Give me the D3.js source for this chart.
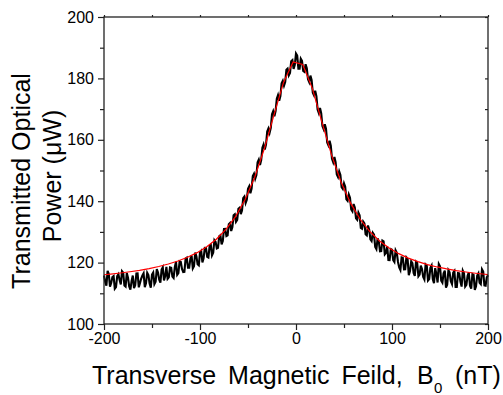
<!DOCTYPE html>
<html>
<head>
<meta charset="utf-8">
<script src="https://cdn.jsdelivr.net/npm/d3@7"></script>
<style>
  html, body { margin: 0; padding: 0; background: #fff; }
  svg { display: block; }
  text { font-family: "Liberation Sans", Arial, sans-serif; fill: #000; }
</style>
</head>
<body>
<svg id="chart" width="503" height="395"></svg>
<script>
// ---------- data ----------
// Measured trace: sampled every 1.25 nT from -200 to 200 nT
const measuredFieldStart = -200;
const measuredFieldStep = 1.25;
const measuredPower = [
  115.8,113.75,112.5,117.3,116.3,112.15,113.4,115.3,115.6,111.5,
  112.0,115.6,116.2,114.35,112.9,117.2,116.7,112.55,112.2,116.65,
  115.1,112.25,111.2,114.0,115.8,111.7,112.6,116.45,116.5,111.95,
  113.4,114.8,115.8,116.5,112.0,113.25,116.7,115.95,113.2,111.85,
  116.1,116.75,113.0,113.75,117.9,116.75,114.4,113.45,117.7,118.45,
  114.2,115.6,118.6,114.7,115.2,118.45,118.3,115.45,115.0,118.55,
  120.3,116.05,116.6,120.4,120.2,117.95,116.9,117.0,121.3,121.6,
  118.3,118.3,121.3,122.3,118.1,118.8,123.3,122.1,119.45,119.1,
  123.3,123.8,120.05,121.4,124.8,124.75,121.9,121.65,125.4,125.8,
  122.35,123.2,127.3,126.75,124.6,124.8,128.6,128.9,125.95,127.05,
  130.95,131.0,128.65,128.9,132.5,132.9,130.3,131.55,135.4,135.75,
  133.3,133.9,137.5,137.85,135.8,137.0,141.0,141.5,139.4,140.5,
  144.0,144.8,142.6,144.1,148.2,148.95,147.3,148.5,152.7,153.55,
  151.8,153.4,157.4,158.5,156.8,158.45,162.7,163.7,162.3,163.9,
  168.3,169.3,167.7,169.35,173.4,174.55,172.7,174.25,178.4,179.2,
  177.6,178.8,182.8,183.2,181.0,181.8,185.6,185.95,183.1,184.4,
  188.1,187.45,183.2,183.2,186.4,185.7,182.4,182.1,184.6,183.35,
  179.7,178.8,180.9,179.5,175.3,174.45,176.0,174.25,169.9,168.75,
  170.4,168.65,164.5,163.5,165.1,163.6,159.1,158.2,159.7,158.05,
  153.8,152.7,154.4,152.75,148.7,147.9,149.7,148.55,144.6,144.0,
  145.8,144.7,140.6,140.1,142.2,141.15,137.3,136.7,139.1,137.95,
  134.4,133.95,136.3,135.4,131.3,131.05,133.4,132.8,129.2,128.85,
  132.1,130.75,127.6,127.05,129.7,129.1,125.1,124.4,127.9,126.9,
  123.7,123.75,127.2,126.95,122.7,123.2,125.3,120.85,120.8,124.4,
  124.2,120.8,120.2,124.0,123.2,120.2,118.4,117.55,121.7,121.55,
  117.8,117.85,121.7,121.2,115.9,117.25,120.4,119.8,116.6,115.65,
  120.3,119.9,115.5,116.05,119.0,117.9,115.35,114.5,119.4,119.0,
  114.15,114.6,118.3,119.05,114.6,113.3,118.2,116.25,113.5,119.55,
  118.8,114.1,113.45,116.5,117.4,111.85,112.75,117.5,116.8,113.9,
  113.0,116.7,117.25,112.05,112.05,116.6,116.5,113.85,112.2,117.35,
  116.5,112.2,112.75,115.7,116.8,112.45,111.5,116.25,116.0,111.1,
  112.2,115.75,116.5,113.4,112.95,117.8,117.05,112.6,112.5,115.2,
  115.9
];
const measuredField = measuredPower.map((_, i) => measuredFieldStart + i * measuredFieldStep);

// Lorentzian fit curve (red)
const fitField = [-200,-193,-183,-173,-163,-153,-143,-133,-123,-113,-103,-93,-83,-73,-63,-53,-43,-33,-23,-13,-3,
                  7,17,27,37,47,57,67,77,87,97,107,117,127,137,147,157,167,177,187,197,200];
const fitPower = [116.05,116.27,116.62,117.02,117.49,118.06,118.72,119.53,120.51,121.73,123.24,125.15,127.60,130.79,134.97,140.52,147.80,157.10,168.03,178.70,185.34,
                  184.54,176.75,165.78,155.08,146.19,139.28,134.04,130.08,127.06,124.73,122.91,121.46,120.30,119.36,118.58,117.93,117.39,116.93,116.54,116.20,116.11];

// Axis ticks
const xMajorTicks = [-200, -100, 0, 100, 200];
const xMinorTicks = [-150, -50, 50, 150];
const yMajorTicks = [100, 120, 140, 160, 180, 200];
const yMinorTicks = [110, 130, 150, 170, 190];
const xDomain = [-200, 200];
const yDomain = [100, 200];

// ---------- drawing ----------
const svg = d3.select("#chart");
const L = 104, R = 488, T = 17, B = 324;

const x = d3.scaleLinear().domain(xDomain).range([L, R]);
const y = d3.scaleLinear().domain(yDomain).range([B, T]);
const fmt = d => String(d);

// measured trace
const line = d3.line().x(d => x(d[0])).y(d => y(d[1]));
svg.append("path")
  .datum(measuredField.map((f, i) => [f, measuredPower[i]]))
  .attr("d", line)
  .attr("fill", "none")
  .attr("stroke", "#000")
  .attr("stroke-width", 2.1);

// fit
svg.append("path")
  .datum(fitField.map((f, i) => [f, fitPower[i]]))
  .attr("d", line)
  .attr("fill", "none")
  .attr("stroke", "#ff0000")
  .attr("stroke-width", 1.2);

const axisColor = "#222";
function styleAxis(g) {
  g.select(".domain").remove();
  g.selectAll(".tick line").attr("stroke", axisColor).attr("stroke-width", 1.2);
  g.selectAll(".tick text").style("font-size", "16px").style("font-family", "'Liberation Sans', Arial, sans-serif");
}

// bottom axis
svg.append("g").attr("transform", `translate(0,${B})`)
  .call(d3.axisBottom(x).tickValues(xMajorTicks).tickSize(6).tickPadding(3).tickFormat(fmt))
  .call(styleAxis);
svg.append("g").attr("transform", `translate(0,${B})`)
  .call(d3.axisBottom(x).tickValues(xMinorTicks).tickSize(4).tickFormat(""))
  .call(styleAxis);

// left axis
svg.append("g").attr("transform", `translate(${L},0)`)
  .call(d3.axisLeft(y).tickValues(yMajorTicks).tickSize(6).tickPadding(4).tickFormat(fmt))
  .call(styleAxis);
svg.append("g").attr("transform", `translate(${L},0)`)
  .call(d3.axisLeft(y).tickValues(yMinorTicks).tickSize(4).tickFormat(""))
  .call(styleAxis);

// top axis (small ticks)
svg.append("g").attr("transform", `translate(0,${T})`)
  .call(d3.axisTop(x).tickValues(xMajorTicks.concat(xMinorTicks)).tickSize(2).tickFormat(""))
  .call(styleAxis);
// right axis (small inward ticks)
svg.append("g").attr("transform", `translate(${R},0)`)
  .call(d3.axisLeft(y).tickValues(yMajorTicks.concat(yMinorTicks)).tickSize(3).tickFormat(""))
  .call(styleAxis);

// frame
svg.append("rect")
  .attr("x", L).attr("y", T).attr("width", R - L).attr("height", B - T)
  .attr("fill", "none").attr("stroke", axisColor).attr("stroke-width", 1.3);

// x title
svg.append("text")
  .attr("x", 92).attr("y", 384)
  .style("font-size", "25px")
  .style("word-spacing", "5px")
  .text("Transverse Magnetic Feild,");
svg.append("text").attr("x", 417).attr("y", 384).style("font-size", "25px").text("B");
svg.append("text").attr("x", 434).attr("y", 393).style("font-size", "15px").text("0");
svg.append("text").attr("x", 455).attr("y", 384).style("font-size", "25px").text("(nT)");

// y title (two lines)
svg.append("text")
  .attr("transform", "translate(30,181) rotate(-90)")
  .attr("text-anchor", "middle")
  .style("font-size", "25px")
  .text("Transmitted Optical");
svg.append("text")
  .attr("transform", "translate(61,176) rotate(-90)")
  .attr("text-anchor", "middle")
  .style("font-size", "25px")
  .text("Power (\u03BCW)");
</script>
</body>
</html>
